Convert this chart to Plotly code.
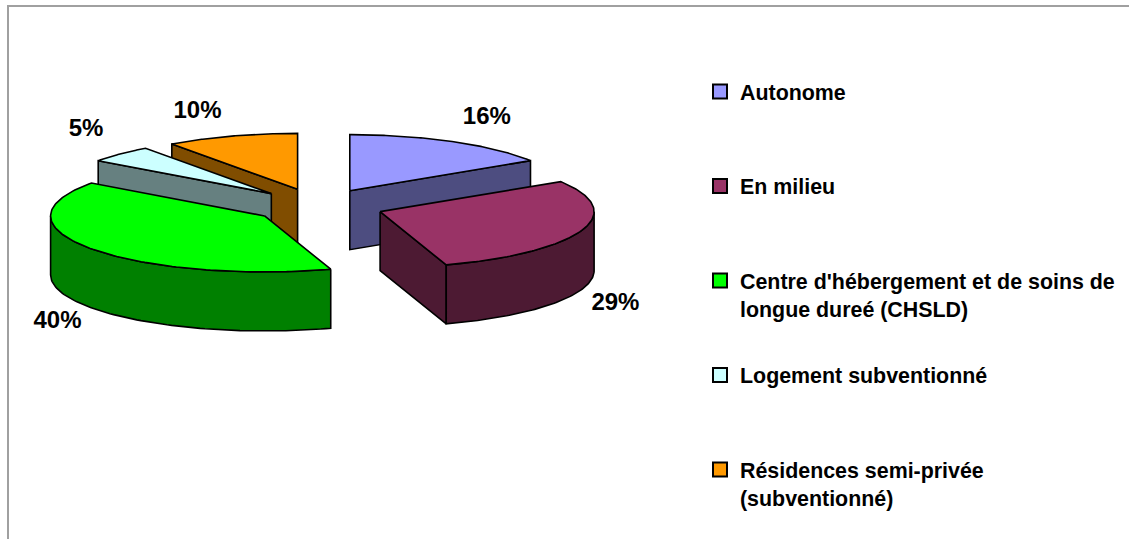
import numpy as np
import plotly.graph_objects as go

# ---------------- data ----------------
categories = ["Autonome", "En milieu",
              "Centre d'hébergement et de soins de longue dureé (CHSLD)",
              "Logement subventionné",
              "Résidences semi-privée (subventionné)"]
legend_labels = ["Autonome", "En milieu",
                 "Centre d'hébergement et de soins de<br>longue dureé (CHSLD)",
                 "Logement subventionné",
                 "Résidences semi-privée<br>(subventionné)"]
values = [16, 29, 40, 5, 10]
pct_labels = ["16%", "29%", "40%", "5%", "10%"]

# ---------------- style ----------------
top_colors = ["#9999FF", "#993366", "#00FF00", "#CCFFFF", "#FF9900"]
side_colors = ["#4D4D80", "#4D1A33", "#008000", "#668080", "#804D00"]
FONT = "Liberation Sans, Arial, sans-serif"
W, H_FIG = 1129, 539
ML, MT = 9, 7
CX, CY = 318.0, 205.8      # pie centre (px)
RX, RY = 214.0, 56.0       # ellipse radii (px)
DEPTH = 59.0               # thickness (px)
EXPL = 66.0                # explosion distance (px, horizontal scale)
OUTLINE = dict(color="black", width=1.6)

fig = go.Figure()

total = float(sum(values))
bounds = np.concatenate([[0.0], np.cumsum(values)]) / total * 360.0

slices = []
for i in range(len(values)):
    a1, a2 = bounds[i], bounds[i + 1]
    mid = np.radians((a1 + a2) / 2)
    vx = CX + EXPL * np.sin(mid)
    vy = CY - EXPL * (RY / RX) * np.cos(mid)
    slices.append(dict(i=i, a1=a1, a2=a2, mid=(a1 + a2) / 2, vx=vx, vy=vy))


def pts(s, angles_deg, rad=1.0, z=0.0):
    th = np.radians(np.asarray(angles_deg, dtype=float))
    x = s["vx"] + RX * rad * np.sin(th)
    y = s["vy"] - RY * rad * np.cos(th) + DEPTH * z
    return list(x), list(y)


def poly(xs, ys, color):
    fig.add_trace(go.Scatter(x=xs + [xs[0]], y=ys + [ys[0]], mode="lines",
                             fill="toself", fillcolor=color, line=OUTLINE,
                             hoverinfo="skip", showlegend=False))


def radial_face(s, a, color):
    x1, y1 = pts(s, [a], 1, 0)
    x2, y2 = pts(s, [a], 1, 1)
    xs = [s["vx"], x1[0], x2[0], s["vx"]]
    ys = [s["vy"], y1[0], y2[0], s["vy"] + DEPTH]
    poly(xs, ys, color)


for s in sorted(slices, key=lambda d: d["vy"]):
    i = s["i"]
    a1, a2 = s["a1"], s["a2"]
    # radial cut faces
    if np.sin(np.radians(a1)) < -1e-6:
        radial_face(s, a1, side_colors[i])
    if np.sin(np.radians(a2)) > 1e-6:
        radial_face(s, a2, side_colors[i])
    # outer curved side (front half only)
    lo, hi = max(a1, 90.0), min(a2, 270.0)
    if hi > lo:
        ang = np.linspace(lo, hi, 80)
        xt, yt = pts(s, ang, 1, 0)
        xb, yb = pts(s, ang[::-1], 1, 1)
        poly(xt + xb, yt + yb, side_colors[i])
    # top face
    ang = np.linspace(a1, a2, 120)
    xt, yt = pts(s, ang, 1, 0)
    poly([s["vx"]] + xt, [s["vy"]] + yt, top_colors[i])

# percentage labels
lx, ly = [], []
for s in slices:
    m = np.radians(s["mid"])
    front = np.cos(m) < 0
    ex, ey = pts(s, [s["mid"]], 1, 1 if front else 0)
    lx.append(ex[0] + 34 * np.sign(np.sin(m)))
    ly.append(ey[0] + (14 if front else -24))
fig.add_trace(go.Scatter(x=lx, y=ly, mode="text", text=pct_labels,
                         textposition="middle center",
                         textfont=dict(family=FONT, size=24, color="black", weight="bold"),
                         hoverinfo="skip", showlegend=False))

# legend entries (one legend box per entry, equally spaced like the original)
LEG_X = 741 - 41
LEG_Y0, LEG_STEP = 92, 94.5
for i, name in enumerate(legend_labels):
    key = "legend" if i == 0 else f"legend{i + 1}"
    fig.add_trace(go.Scatter(x=[None], y=[None], mode="markers", name=name,
                             legend=key, showlegend=True,
                             marker=dict(symbol="square", size=14, color=top_colors[i],
                                         line=dict(color="black", width=2))))
    yc = LEG_Y0 + i * LEG_STEP
    fig.update_layout({key: dict(
        x=(LEG_X - ML) / (W - ML), xanchor="left",
        y=1 - (yc - 21 - MT) / (H_FIG - MT), yanchor="top",
        bgcolor="rgba(0,0,0,0)", borderwidth=0, valign="top",
        font=dict(family=FONT, size=21.4, color="black", weight="bold"),
        itemwidth=30)})

fig.update_layout(
    width=W, height=H_FIG,
    margin=dict(l=ML, t=MT, r=0, b=0, pad=0),
    paper_bgcolor="white", plot_bgcolor="white",
    xaxis=dict(range=[ML, W], showgrid=False, zeroline=False, showticklabels=False,
               ticks="", showline=True, side="top", linecolor="#A0A0A0", linewidth=2,
               fixedrange=True),
    yaxis=dict(range=[H_FIG, MT], showgrid=False, zeroline=False, showticklabels=False,
               ticks="", showline=True, side="left", linecolor="#A0A0A0", linewidth=2,
               fixedrange=True),
    hovermode=False,
)

fig.write_html("out.html", config={"displayModeBar": False})
